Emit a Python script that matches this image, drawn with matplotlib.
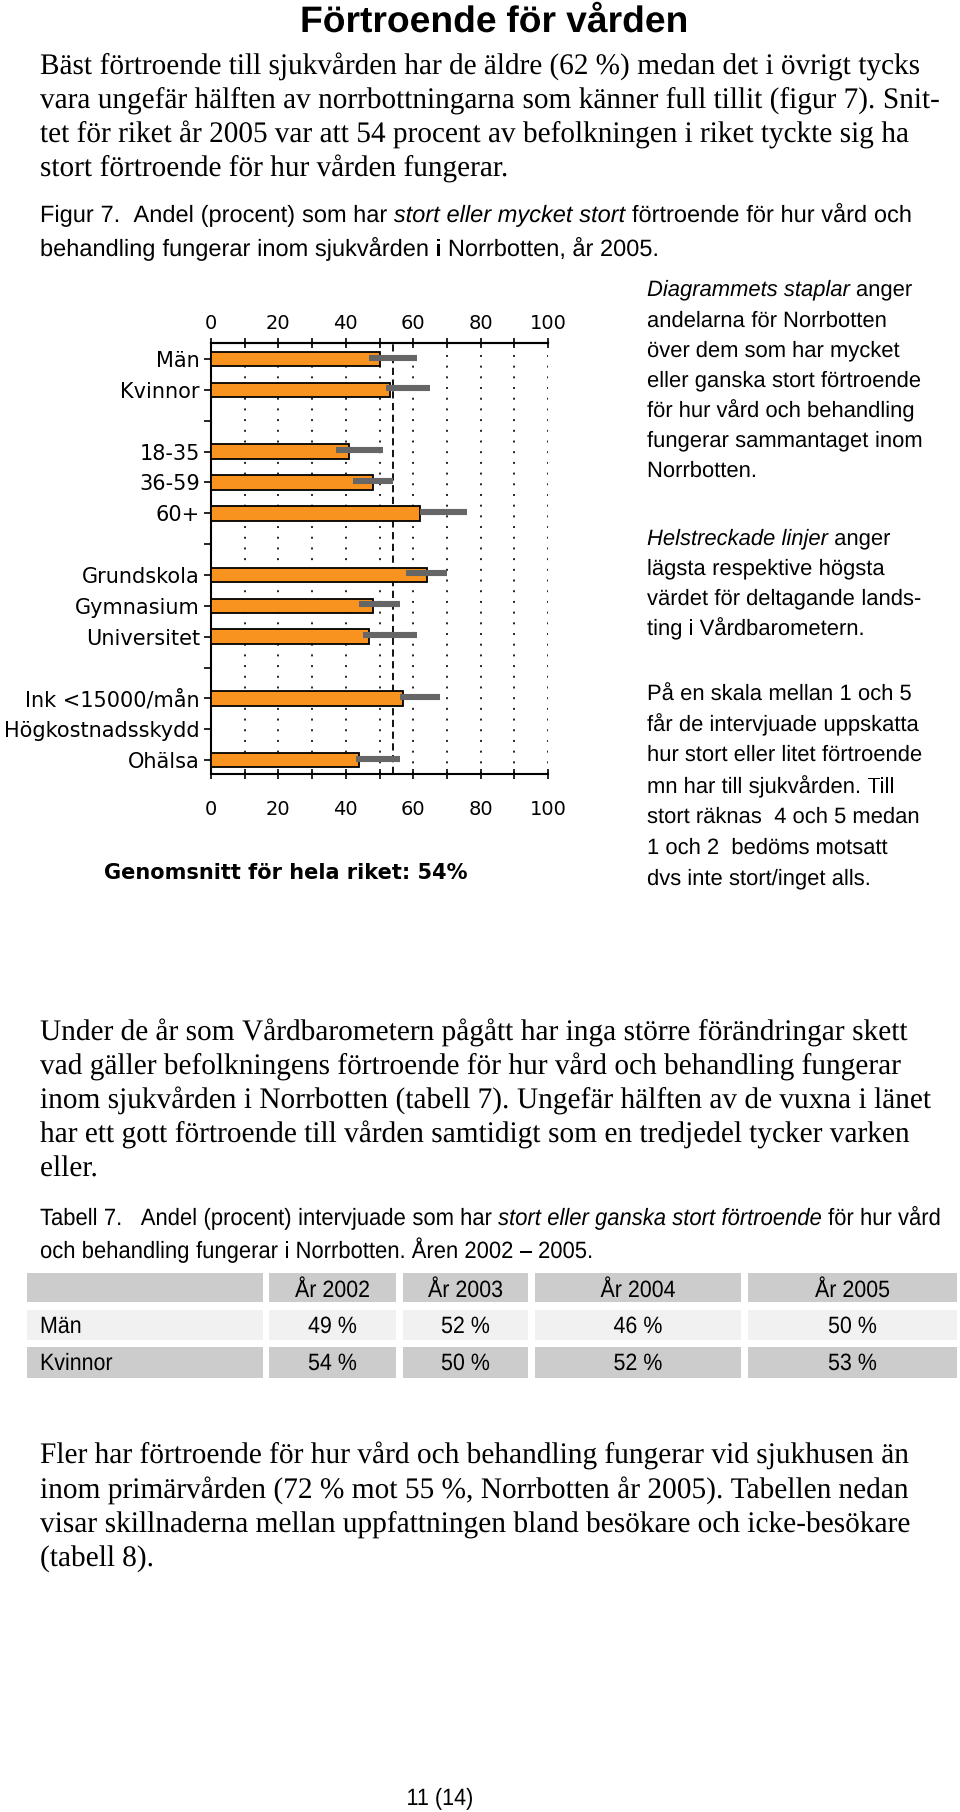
import matplotlib
matplotlib.use("Agg")
import matplotlib.pyplot as plt
import numpy as np
from matplotlib import font_manager, patheffects
from matplotlib.transforms import Affine2D
from matplotlib.patches import Rectangle
from matplotlib.ticker import FixedLocator

# ---------------- data ----------------
categories = ["Män", "Kvinnor", "", "18-35", "36-59", "60+", "",
              "Grundskola", "Gymnasium", "Universitet", "",
              "Ink <15000/mån", "Högkostnadsskydd", "Ohälsa"]
nan = np.nan
norrbotten = [50, 53, nan, 41, 48, 62, nan, 64, 48, 47, nan, 57, nan, 44]
range_low = [47, 52, nan, 37, 42, 62, nan, 58, 44, 45, nan, 56, nan, 43]
range_high = [61, 65, nan, 51, 54, 76, nan, 70, 56, 61, nan, 68, nan, 56]
riket = 54
x_ticks = [0, 20, 40, 60, 80, 100]
x_minor = [10, 30, 50, 70, 90]
blank_rows = [2, 6, 10]

table_cols = ["År 2002", "År 2003", "År 2004", "År 2005"]
table_rows = ["Män", "Kvinnor"]
table_man = [49, 52, 46, 50]
table_kvinnor = [54, 50, 52, 53]

# ---------------- figure ----------------
W, H = 960, 1812
fig = plt.figure(figsize=(9.6, 18.12), dpi=100)
fig.patch.set_facecolor("white")
renderer = fig.canvas.get_renderer()

names = {f.name for f in font_manager.fontManager.ttflist}
SERIF = "Liberation Serif" if "Liberation Serif" in names else "DejaVu Serif"
SANS = "Liberation Sans" if "Liberation Sans" in names else "DejaVu Sans"
NARROW = "Liberation Sans Narrow" if "Liberation Sans Narrow" in names else SANS


class HScale(patheffects.AbstractPathEffect):
    """Horizontal condensing of a text around x0 (display px)."""
    def __init__(self, x0, sx):
        super().__init__()
        self.x0 = x0
        self.sx = sx

    def draw_path(self, renderer, gc, tpath, affine, rgbFace=None):
        t = affine + Affine2D().translate(-self.x0, 0).scale(self.sx, 1).translate(self.x0, 0)
        renderer.draw_path(gc, tpath, t, rgbFace)


_cache = {}


def _w(s, size, family, italic=False, weight="normal"):
    key = (s, size, family, italic, weight)
    if key not in _cache:
        t = fig.text(0, 0, s, fontsize=size, family=family,
                     style="italic" if italic else "normal", weight=weight)
        _cache[key] = t.get_window_extent(renderer).width
        t.remove()
    return _cache[key]


def space_w(size, family, italic=False, weight="normal"):
    return _w("x x", size, family, italic, weight) - _w("xx", size, family, italic, weight)


def line_width(segs, size, family, weight="normal"):
    tot = 0
    for i, (s, it) in enumerate(segs):
        sp = space_w(size, family, it, weight)
        toks = s.split(" ")
        for j, tok in enumerate(toks):
            if tok:
                tot += _w(tok, size, family, it, weight)
            if j < len(toks) - 1:
                tot += sp
        if i < len(segs) - 1:
            tot += sp
    return tot


def place(x, yb, segs, size, family, sx, weight="normal", color="black"):
    """Draw a line word by word, each word condensed by sx about its centre."""
    cur = x
    for i, (s, it) in enumerate(segs):
        sp = space_w(size, family, it, weight)
        toks = s.split(" ")
        for j, tok in enumerate(toks):
            if tok:
                w = _w(tok, size, family, it, weight) * sx
                cx = cur + w / 2
                t = fig.text(cx / W, 1 - yb / H, tok, fontsize=size, family=family,
                             style="italic" if it else "normal", weight=weight,
                             va="baseline", ha="center", color=color)
                t.set_path_effects([HScale(cx, sx)])
                cur += w
            if j < len(toks) - 1:
                cur += sp * sx
        if i < len(segs) - 1:
            cur += sp * sx


def block(x, baselines, lines, size, family, fit_idx, target, weight="normal"):
    nat = line_width(lines[fit_idx], size, family, weight)
    sx = target / nat
    for yb, segs in zip(baselines, lines):
        place(x, yb, segs, size, family, sx, weight)
    return sx


def P(s):
    return [(s, False)]


# ---------------- title ----------------
title = P("Förtroende för vården")
nat = line_width(title, 26.5, NARROW, "bold")
place(300, 32, title, 26.5, NARROW, 388 / nat, "bold")

# ---------------- paragraph 1 ----------------
SERIF_SIZE = 21.5
para1 = [P("Bäst förtroende till sjukvården har de äldre (62 %) medan det i övrigt tycks"),
         P("vara ungefär hälften av norrbottningarna som känner full tillit (figur 7). Snit-"),
         P("tet för riket år 2005 var att 54 procent av befolkningen i riket tyckte sig ha"),
         P("stort förtroende för hur vården fungerar.")]
block(40, [74, 108, 142, 176], para1, SERIF_SIZE, SERIF, 1, 900)

# ---------------- caption figure ----------------
CAP_SIZE = 17
cap1 = [[("Figur 7.  Andel (procent) som har", False), ("stort eller mycket stort", True),
         ("förtroende för hur vård och", False)],
        P("behandling fungerar inom sjukvården i Norrbotten, år 2005.")]
block(40, [222, 256], cap1, CAP_SIZE, NARROW, 0, 872)

# ---------------- side text ----------------
side = [[("Diagrammets staplar", True), ("anger", False)],
        P("andelarna för Norrbotten"),
        P("över dem som har mycket"),
        P("eller ganska stort förtroende"),
        P("för hur vård och behandling"),
        P("fungerar sammantaget inom"),
        P("Norrbotten."),
        [("Helstreckade linjer", True), ("anger", False)],
        P("lägsta respektive högsta"),
        P("värdet för deltagande lands-"),
        P("ting i Vårdbarometern."),
        P("På en skala mellan 1 och 5"),
        P("får de intervjuade uppskatta"),
        P("hur stort eller litet förtroende"),
        P("mn har till sjukvården. Till"),
        P("stort räknas  4 och 5 medan"),
        P("1 och 2  bedöms motsatt"),
        P("dvs inte stort/inget alls.")]
side_base = [296, 327, 357, 387, 417, 447, 477,
             545, 575, 605, 635,
             700, 731, 761, 793, 823, 854, 885]
block(647, side_base, side, 16, SANS, 3, 274)

# ---------------- chart ----------------
ax = fig.add_axes([211 / W, 1 - 774 / H, 337 / W, 431 / H])
y = np.arange(len(categories))
vals = np.array(norrbotten, dtype=float)
lo = np.array(range_low, dtype=float)
hi = np.array(range_high, dtype=float)
ok = ~np.isnan(vals)
ax.barh(y[ok], vals[ok], height=0.47, color="#F7931E", edgecolor="black",
        linewidth=1.3, zorder=3)
okr = ~np.isnan(lo)
ax.hlines(y[okr] - 0.05, lo[okr], hi[okr], color="#666666", linewidth=4.4, zorder=4)
ax.axvline(riket, color="black", linewidth=1.3, linestyle=(0, (4, 2.5)), zorder=2)

ax.set_xlim(0, 100)
ax.set_ylim(13.45, -0.52)
ax.set_axisbelow(True)
ax.set_xticks(x_ticks)
ax.xaxis.set_minor_locator(FixedLocator(x_minor))
ax.grid(axis="x", which="both", linestyle=(0, (1, 4.5)), color="#222222", linewidth=1.4)
ax.tick_params(axis="x", which="both", direction="inout", length=7, width=1.2,
               top=False, bottom=True, labelsize=14, pad=15)
ax.set_yticks(y)
ax.set_yticklabels(categories)
ax.yaxis.set_minor_locator(FixedLocator(blank_rows))
ax.tick_params(axis="y", which="major", direction="out", length=5, width=1.2,
               labelsize=15, pad=3)
ax.tick_params(axis="y", which="minor", direction="inout", length=9, width=1.2)
for side_name in ["left", "top", "bottom"]:
    ax.spines[side_name].set_linewidth(1.5)
ax.spines["right"].set_visible(False)
for lab in ax.get_xticklabels() + ax.get_yticklabels():
    lab.set_family("DejaVu Sans")

sec = ax.secondary_xaxis("top")
sec.set_xticks(x_ticks)
sec.xaxis.set_minor_locator(FixedLocator(x_minor))
sec.tick_params(axis="x", which="both", direction="inout", length=7, width=1.2,
                labelsize=14, pad=4)
sec.spines["top"].set_linewidth(1.5)

fig.text(286 / W, 1 - 873 / H, "Genomsnitt för hela riket: 54%", fontsize=15,
         family="DejaVu Sans", weight="bold", ha="center", va="center")

# ---------------- paragraph 2 ----------------
para2 = [P("Under de år som Vårdbarometern pågått har inga större förändringar skett"),
         P("vad gäller befolkningens förtroende för hur vård och behandling fungerar"),
         P("inom sjukvården i Norrbotten (tabell 7). Ungefär hälften av de vuxna i länet"),
         P("har ett gott förtroende till vården samtidigt som en tredjedel tycker varken"),
         P("eller.")]
block(40, [1040, 1074, 1108, 1142, 1176], para2, SERIF_SIZE, SERIF, 2, 891)

# ---------------- caption table ----------------
cap2 = [[("Tabell 7.   Andel (procent) intervjuade som har", False),
         ("stort eller ganska stort förtroende", True), ("för hur vård", False)],
        P("och behandling fungerar i Norrbotten. Åren 2002 – 2005.")]
block(40, [1225, 1258], cap2, CAP_SIZE, NARROW, 0, 901)

# ---------------- table ----------------
col_edges = [(27, 263), (269, 396), (403, 528), (535, 741), (748, 957)]
row_edges = [(1273, 1302), (1310, 1340), (1347, 1378)]
row_colors = ["#CCCCCC", "#F1F1F1", "#CCCCCC"]
for (y0, y1), c in zip(row_edges, row_colors):
    for (x0, x1) in col_edges:
        fig.patches.append(Rectangle((x0 / W, 1 - y1 / H), (x1 - x0) / W, (y1 - y0) / H,
                                     transform=fig.transFigure, facecolor=c,
                                     edgecolor="none", zorder=0))
TAB_SIZE = 17
ref_nat = line_width(P("År 2005"), TAB_SIZE, NARROW)
sx_tab = 75 / ref_nat
baselines_tab = [1297, 1333, 1370]


def center_text(cx, yb, s):
    w = line_width(P(s), TAB_SIZE, NARROW) * sx_tab
    place(cx - w / 2, yb, P(s), TAB_SIZE, NARROW, sx_tab)


for (x0, x1), s in zip(col_edges[1:], table_cols):
    center_text((x0 + x1) / 2, baselines_tab[0], s)
for r, (name, vals_r) in enumerate(zip(table_rows, [table_man, table_kvinnor])):
    place(40, baselines_tab[r + 1], P(name), TAB_SIZE, NARROW, sx_tab)
    for (x0, x1), v in zip(col_edges[1:], vals_r):
        center_text((x0 + x1) / 2, baselines_tab[r + 1], f"{v} %")

# ---------------- paragraph 3 ----------------
para3 = [P("Fler har förtroende för hur vård och behandling fungerar vid sjukhusen än"),
         P("inom primärvården (72 % mot 55 %, Norrbotten år 2005). Tabellen nedan"),
         P("visar skillnaderna mellan uppfattningen bland besökare och icke-besökare"),
         P("(tabell 8).")]
block(40, [1463, 1498, 1532, 1566], para3, SERIF_SIZE, SERIF, 0, 869)

# ---------------- page number ----------------
pn = P("11 (14)")
PN_SIZE = 17
nat = line_width(pn, PN_SIZE, NARROW)
place(440 - 67 / 2, 1805, pn, PN_SIZE, NARROW, 67 / nat)

fig.savefig("out.png", dpi=100)
